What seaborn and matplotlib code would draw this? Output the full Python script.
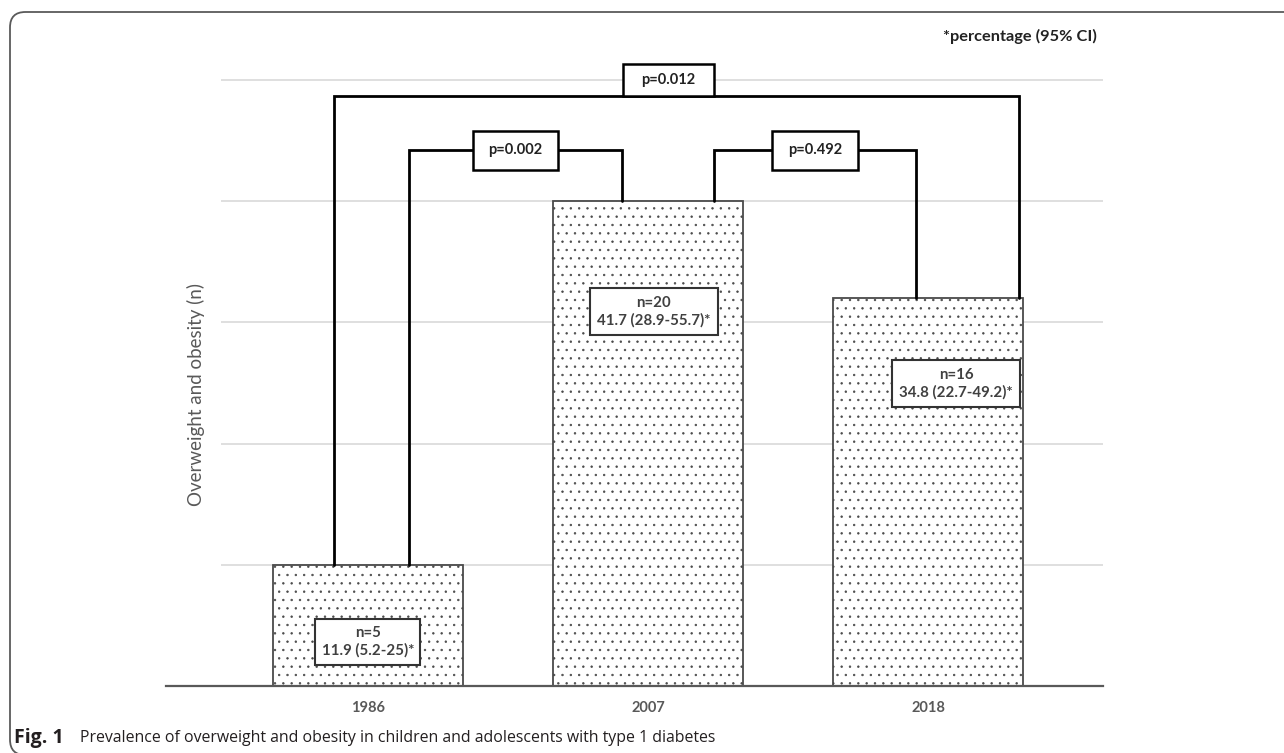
import matplotlib
matplotlib.use("Agg")
import matplotlib.pyplot as plt
from matplotlib.patches import Rectangle, FancyBboxPatch
import seaborn as sns
import pandas as pd

# Survey years and number of children with overweight/obesity
years = ["1986", "2007", "2018"]
counts = [5, 20, 16]
# Prevalence (%) with 95% confidence interval
pct = [11.9, 41.7, 34.8]
ci_low = [5.2, 28.9, 22.7]
ci_high = [25, 55.7, 49.2]
# Pairwise comparisons: (first year index, second year index, p-value)
comparisons = [(0, 1, "0.002"), (1, 2, "0.492"), (0, 2, "0.012")]
grid_levels = [5, 10, 15, 20, 25]

sns.set_style("white")
plt.rcParams["font.family"] = ["Lato", "DejaVu Sans"]
plt.rcParams["hatch.linewidth"] = 0.5
plt.rcParams["hatch.color"] = "#777777"

W, H = 1284, 753
fig = plt.figure(figsize=(W / 100, H / 100), dpi=100)
ax = fig.add_axes([166 / W, 1 - 686 / H, 937 / W, 606 / H])

df = pd.DataFrame({"year": years, "n": counts})
sns.barplot(data=df, x="year", y="n", order=years, width=0.68,
            color="white", edgecolor="#4a4a4a", linewidth=1.3, ax=ax,
            zorder=2)
for bar in ax.patches:
    bar.set_facecolor("white")
    bar.set_edgecolor("#4a4a4a")
    bar.set_hatch("..")
    if hasattr(bar, "set_hatchcolor"):
        bar.set_hatchcolor("#7a7a7a")

ax.set_xlim(-0.7214, 2.625)
ax.set_ylim(0, 25)

# light horizontal gridlines
ax.hlines(grid_levels, -0.525, 2.625, color="#d9d9d9", lw=1.2, zorder=0,
          clip_on=False)

for side in ["left", "right", "top"]:
    ax.spines[side].set_visible(False)
ax.spines["bottom"].set_color("#595959")
ax.spines["bottom"].set_linewidth(1.6)
ax.set_yticks([])
ax.tick_params(axis="x", length=0, pad=11)
ax.set_xlabel("")
ax.set_ylabel("")
for lab in ax.get_xticklabels():
    lab.set_fontweight("bold")
    lab.set_color("#595959")
    lab.set_fontsize(10.5)

# value boxes inside the bars
inner_box = {0: (0.0, 1.82, 0.375, 1.90),
             1: (0.02, 15.45, 0.457, 1.94),
             2: (0.10, 12.48, 0.454, 1.90)}
for i in range(len(years)):
    dx, yc, bw, bh = inner_box[i]
    xc = i + dx
    ax.add_patch(Rectangle((xc - bw / 2, yc - bh / 2), bw, bh,
                           facecolor="white", edgecolor="#333333", lw=1.5,
                           zorder=4))
    label = f"n={counts[i]}\n{pct[i]:g} ({ci_low[i]:g}-{ci_high[i]:g})*"
    ax.text(xc, yc, label, ha="center", va="center", fontsize=10.8,
            fontweight="bold", color="#404040", linespacing=1.3, zorder=5)

# significance brackets
bracket_geom = {
    (0, 1): (0.146, -0.093, 22.1, 1.61, 0.304, False),
    (1, 2): (0.236, -0.043, 22.1, 1.61, 0.304, False),
    (0, 2): (-0.12, 0.325, 24.34, 1.32, 0.325, True),
}
for a, b, p in comparisons:
    off_a, off_b, yl, bh, bw, above = bracket_geom[(a, b)]
    xa, xb = a + off_a, b + off_b
    ax.plot([xa, xa, xb, xb], [counts[a], yl, yl, counts[b]],
            color="black", lw=2.0, solid_joinstyle="miter", zorder=3,
            clip_on=False)
    xm = (xa + xb) / 2 - (0.03 if above else 0.0)
    yc = yl + bh / 2 if above else yl
    ax.add_patch(Rectangle((xm - bw / 2, yc - bh / 2), bw, bh,
                           facecolor="white", edgecolor="black", lw=1.8,
                           zorder=4, clip_on=False))
    ax.text(xm, yc, f"p={p}", ha="center", va="center", fontsize=10.5,
            fontweight="bold", color="#222222", zorder=5, clip_on=False)

fig.text(196 / W, 1 - 394 / H, "Overweight and obesity (n)", rotation=90,
         ha="center", va="center", fontsize=13.5, color="#595959")
fig.text(1020 / W, 1 - 36 / H, "*percentage (95% CI)", ha="center",
         va="center", fontsize=11.8, fontweight="bold", color="#222222")

# caption
fig.text(14 / W, 1 - 738 / H, "Fig. 1", ha="left", va="center",
         fontsize=14, fontweight="bold", color="#231f20",
         family=["Open Sans", "DejaVu Sans"])
fig.text(80 / W, 1 - 738 / H,
         "Prevalence of overweight and obesity in children and adolescents "
         "with type 1 diabetes", ha="left", va="center", fontsize=11.4,
         color="#231f20", family=["Open Sans", "DejaVu Sans"])

# panel frame with rounded corner (bottom and right edges fall outside)
frame = FancyBboxPatch((10 / W, -2 / H), 1.2, (H - 10) / H,
                       boxstyle="round,pad=0,rounding_size=0.012",
                       transform=fig.transFigure, facecolor="none",
                       edgecolor="#5a5a5a", lw=1.3, mutation_aspect=W / H)
fig.patches.append(frame)

fig.savefig("out.png", dpi=100)
